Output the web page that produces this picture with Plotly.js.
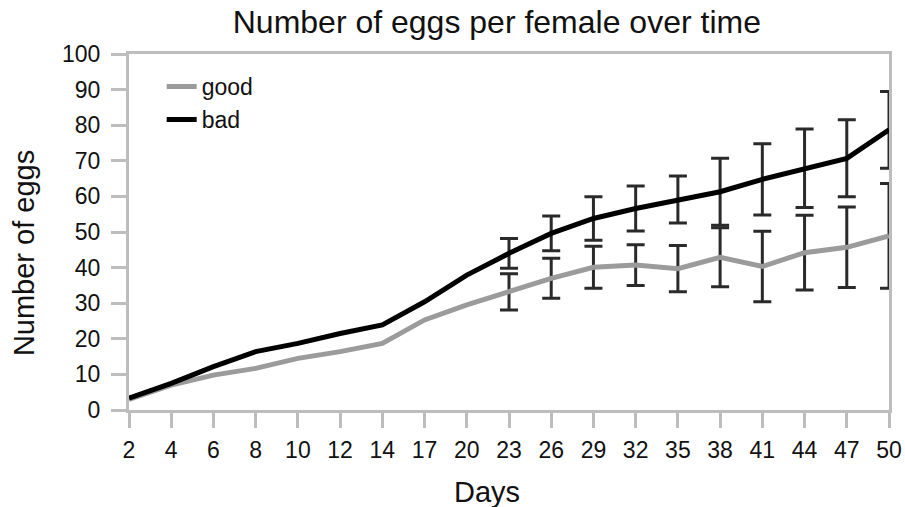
<!DOCTYPE html>
<html>
<head>
<meta charset="utf-8">
<script src="https://cdn.plot.ly/plotly-3.0.1.min.js"></script>
<style>html,body{margin:0;padding:0;background:#fff;}#chart{width:905px;height:507px;}</style>
</head>
<body>
<div id="chart"></div>
<script>
var days = ['2','4','6','8','10','12','14','17','20','23','26','29','32','35','38','41','44','47','50'];
var good = [3, 7, 9.8, 11.7, 14.5, 16.4, 18.7, 25.3, 29.5, 33.2, 37.0, 40.1, 40.7, 39.7, 42.9, 40.3, 44.2, 45.7, 48.9];
var bad = [3.3, 7.5, 12.2, 16.4, 18.7, 21.5, 23.9, 30.4, 37.9, 44.0, 49.6, 53.8, 56.6, 59.1, 61.3, 64.8, 67.9, 70.7, 78.7];
var goodErr = [NaN, NaN, NaN, NaN, NaN, NaN, NaN, NaN, NaN, 5.1, 5.6, 5.9, 5.7, 6.5, 8.3, 9.9, 10.5, 11.3, 14.7];
var badErr = [NaN, NaN, NaN, NaN, NaN, NaN, NaN, NaN, NaN, 4.2, 4.9, 6.1, 6.3, 6.6, 9.4, 10.0, 11.0, 10.8, 10.8];
var titleText = 'Number of eggs per female over time';
var xTitle = 'Days';
var yTitle = 'Number of eggs';

var FONT = '"Liberation Sans", Arial, sans-serif';
var errStyle = {type: 'data', visible: true, color: '#2a2a2a', thickness: 3, width: 9};

var traces = [
  {x: days, y: good, name: 'good', type: 'scatter', mode: 'lines', legendgroup: 'g',
   line: {color: '#9b9b9b', width: 5}, cliponaxis: false,
   error_y: Object.assign({array: goodErr}, errStyle)},
  {x: days, y: bad, name: 'bad', type: 'scatter', mode: 'lines', legendgroup: 'b',
   line: {color: '#000000', width: 5}, cliponaxis: false,
   error_y: Object.assign({array: badErr}, errStyle)}
];

var axisCommon = {
  showline: true, linecolor: '#bdbdbd', linewidth: 3, mirror: true,
  ticks: 'outside', tickcolor: '#bdbdbd', tickwidth: 3, ticklen: 15,
  showgrid: false, zeroline: false,
  tickfont: {family: FONT, size: 23, color: '#111'}
};

var layout = {
  width: 905, height: 507,
  margin: {l: 129, r: 16, t: 54, b: 97},
  paper_bgcolor: '#fff', plot_bgcolor: '#fff',
  font: {family: FONT, color: '#111'},
  title: {text: titleText, font: {family: FONT, size: 32, color: '#111'},
          x: 0.549, xref: 'container', xanchor: 'center', y: 0.957, yref: 'container', yanchor: 'middle'},
  xaxis: Object.assign({}, axisCommon, {type: 'category', range: [0, 18], ticklabelstandoff: 2}),
  yaxis: Object.assign({}, axisCommon, {range: [0, 100], dtick: 10, tick0: 0, ticklabelstandoff: 6}),
  annotations: [
    {text: xTitle, xref: 'paper', yref: 'paper', x: 0.471, y: -0.230, xanchor: 'center', yanchor: 'middle',
     showarrow: false, font: {family: FONT, size: 29, color: '#111'}},
    {text: yTitle, xref: 'paper', yref: 'paper', x: -0.138, y: 0.441, xanchor: 'center', yanchor: 'middle',
     textangle: -90, showarrow: false, font: {family: FONT, size: 29, color: '#111'}}
  ],
  showlegend: true,
  legend: {x: 0.043, y: 0.969, xanchor: 'left', yanchor: 'top', bgcolor: 'rgba(0,0,0,0)',
           font: {family: FONT, size: 23, color: '#111'}, tracegroupgap: 8, traceorder: 'normal'}
};

Plotly.newPlot('chart', traces, layout, {displayModeBar: false, staticPlot: true});
</script>
</body>
</html>
